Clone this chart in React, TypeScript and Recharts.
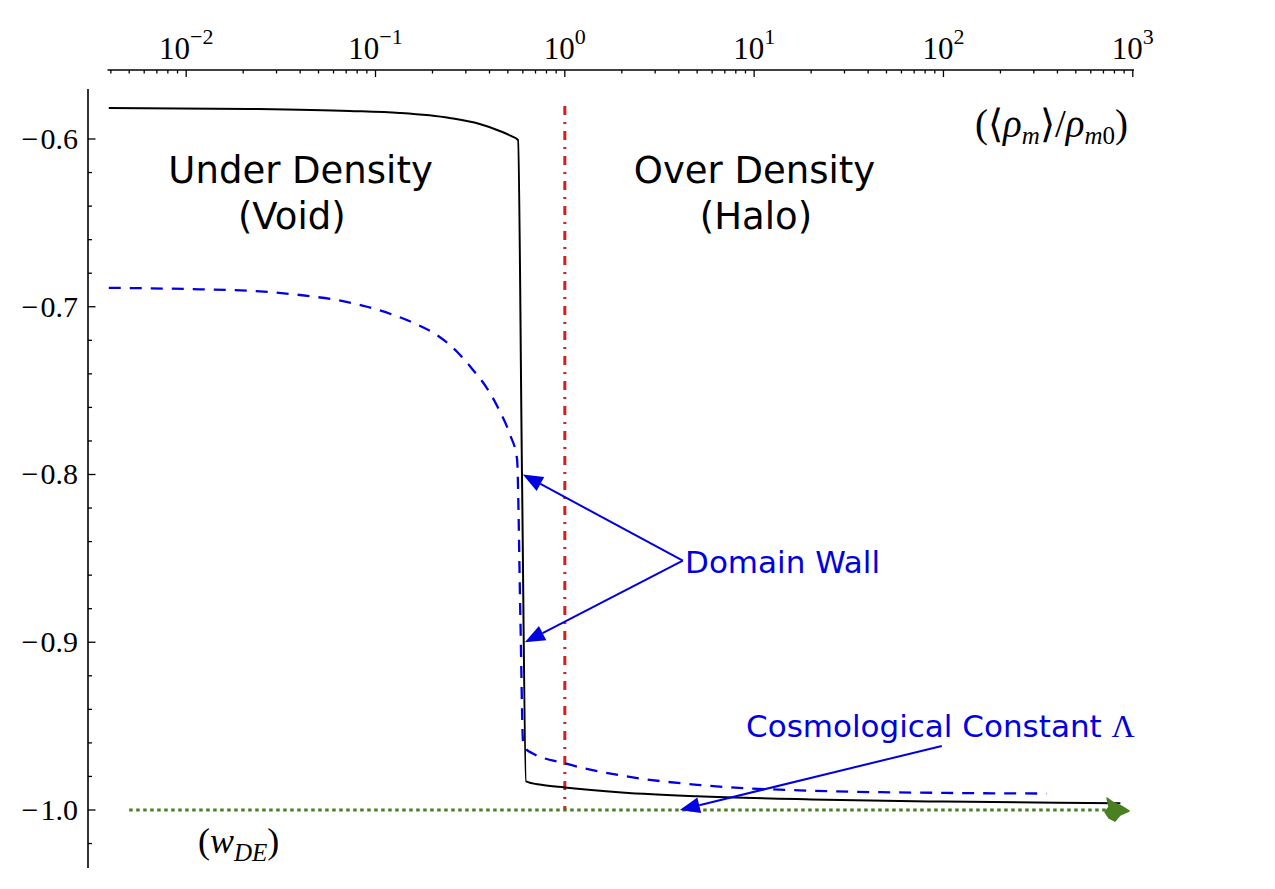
import React from 'react';
import { LineChart, Line, XAxis, YAxis, ReferenceLine, ReferenceDot } from 'recharts';

// density ratio <rho_m>/rho_m0 (log axis) vs w_DE
const xBlack = [0.0039, 0.0216, 0.073, 0.134, 0.2465, 0.355, 0.453, 0.52, 0.566, 0.594, 0.6237, 0.75, 1, 2, 5, 20, 100, 400, 860];
const wBlack = [-0.5815, -0.5821, -0.5833, -0.5845, -0.5875, -0.5911, -0.5952, -0.5982, -0.6006, -0.8, -0.9829, -0.985, -0.9866, -0.9895, -0.9918, -0.9937, -0.995, -0.9957, -0.996];

const xBlue = [0.0039, 0.0118, 0.0217, 0.0399, 0.0673, 0.0902, 0.1222, 0.1617, 0.2113, 0.2695, 0.3274, 0.3928, 0.4547, 0.5135, 0.5591, 0.583, 0.6017, 0.625, 0.67, 1, 2, 5, 20, 100, 350];
const wBlue = [-0.6887, -0.6896, -0.6905, -0.693, -0.6967, -0.7, -0.7046, -0.71, -0.7169, -0.7268, -0.7377, -0.7495, -0.7626, -0.7763, -0.7906, -0.8878, -0.9593, -0.9638, -0.966, -0.9722, -0.9795, -0.985, -0.9885, -0.9898, -0.9902];

const xLambda = [0.005, 806];
const wLambda = [-1, -1];

const xDecades = [-2, -1, 0, 1, 2, 3];
const yTickValues = [-1.02, -1.0, -0.98, -0.96, -0.94, -0.92, -0.9, -0.88, -0.86, -0.84, -0.82, -0.8, -0.78, -0.76, -0.74, -0.72, -0.7, -0.68, -0.66, -0.64, -0.62, -0.6];

// annotation arrows: [from, to] in data coords
const arrowFrom = [[4.2, -0.8513], [4.2, -0.8513], [98, -0.9618]];
const arrowTo = [[0.6, -0.8], [0.615, -0.9], [4.05, -1.0]];

const X_DOMAIN = [0.00384, 1015];
const Y_DOMAIN = [-1.03458, -0.57019];
const PLOT_W = 1026.5;
const PLOT_H = 779;
const GAP = 19; // spines pushed outward

const SANS = 'DejaVu Sans';
const SERIF = 'Liberation Serif';
const BLUE = '#0000e0';
const GREEN = '#4a7f22';
const RED = '#d21f1f';

const toPts = (xs: number[], ys: number[]) => xs.map((x, i) => ({ x, y: ys[i] }));
const blackData = toPts(xBlack, wBlack);
const blueData = toPts(xBlue, wBlue);
const lambdaData = toPts(xLambda, wLambda);

const xTicks: number[] = [];
xDecades.forEach((d) => {
  for (let m = 1; m < 10; m++) {
    const v = m * Math.pow(10, d - 1);
    if (v >= X_DOMAIN[0] && v <= X_DOMAIN[1]) xTicks.push(v);
  }
});
xTicks.push(1000);

const ySpine = Y_DOMAIN[1] + (GAP * (Y_DOMAIN[1] - Y_DOMAIN[0])) / PLOT_H;
const xSpine = X_DOMAIN[0] / Math.pow(10, (19.5 * Math.log10(X_DOMAIN[1] / X_DOMAIN[0])) / PLOT_W);

const XTick = (props: any) => {
  const { x, y, payload } = props;
  const lg = Math.log10(payload.value);
  const e = Math.round(lg);
  const major = Math.abs(lg - e) < 1e-6;
  const ay = y - GAP;
  return (
    <g>
      <line x1={x} x2={x} y1={ay} y2={ay + (major ? 7 : 3.5)} stroke="#000" strokeWidth={1.3} />
      {major && (
        <text x={x} y={ay - 11} textAnchor="middle" fontFamily={SERIF} fontSize={31} fill="#000">
          10<tspan dy={-15} fontSize={22}>{e < 0 ? `\u2212${-e}` : `${e}`}</tspan>
        </text>
      )}
    </g>
  );
};

const YTick = (props: any) => {
  const { x, y, payload } = props;
  const v = payload.value;
  const major = Math.abs(v * 10 - Math.round(v * 10)) < 1e-6;
  const ax = x - 19.5;
  return (
    <g>
      <line x1={ax} x2={ax + (major ? 7.5 : 4)} y1={y} y2={y} stroke="#000" strokeWidth={1.3} />
      {major && (
        <text x={ax - 10} y={y + 10} textAnchor="end" fontFamily={SERIF} fontSize={30} fill="#000">
          {'\u2212'}<tspan dx={2}>{Math.abs(v).toFixed(1)}</tspan>
        </text>
      )}
    </g>
  );
};

const Arrow = (props: any) => {
  const { x1, y1, x2, y2 } = props;
  const len = Math.hypot(x2 - x1, y2 - y1) || 1;
  const ux = (x2 - x1) / len;
  const uy = (y2 - y1) / len;
  const hl = 20;
  const hw = 8;
  const bx = x2 - ux * hl;
  const by = y2 - uy * hl;
  return (
    <g>
      <line x1={x1} y1={y1} x2={bx} y2={by} stroke={BLUE} strokeWidth={2} />
      <polygon points={`${x2},${y2} ${bx - uy * hw},${by + ux * hw} ${bx + uy * hw},${by - ux * hw}`} fill={BLUE} />
    </g>
  );
};

const textShape = (content: React.ReactNode, size: number, color: string, anchor: string, family = SANS) => (p: any) => (
  <text x={p.cx} y={p.cy} fontFamily={family} fontSize={size} fill={color} textAnchor={anchor}>
    {content}
  </text>
);

const LambdaEnd = (props: any) => {
  const { cx, cy, index } = props;
  if (index !== lambdaData.length - 1) return <g key={`d-${index}`} />;
  return (
    <path
      key={`d-${index}`}
      d={`M${cx - 8},${cy - 12} L${cx - 1},${cy - 7} L${cx + 6},${cy - 4} L${cx + 14},${cy + 1} L${cx + 5},${cy + 5} L${cx},${cy + 11} L${cx - 6},${cy + 8} L${cx - 10},${cy + 2} L${cx - 6},${cy - 3} Z`}
      fill={GREEN}
      stroke={GREEN}
      strokeWidth={1.5}
      strokeLinejoin="round"
    />
  );
};

export default function App() {
  return (
    <div style={{ position: 'absolute', left: 0, top: 0, width: 1275, height: 889, background: '#fff' }}>
      <LineChart width={1275} height={889} margin={{ top: 49, right: 141, bottom: 21, left: 47.5 }}>
        <XAxis
          xAxisId={0}
          type="number"
          dataKey="x"
          scale="log"
          orientation="top"
          domain={X_DOMAIN}
          allowDataOverflow
          ticks={xTicks}
          interval={0}
          height={40}
          tickSize={0}
          tickMargin={0}
          axisLine={false}
          tickLine={false}
          tick={(p: any) => <XTick {...p} />}
        />
        <YAxis
          yAxisId={0}
          type="number"
          domain={Y_DOMAIN}
          allowDataOverflow
          ticks={yTickValues}
          interval={0}
          width={60}
          tickSize={0}
          tickMargin={0}
          axisLine={false}
          tickLine={false}
          tick={(p: any) => <YTick {...p} />}
        />

        {/* outward spines */}
        <ReferenceLine segment={[{ x: X_DOMAIN[0], y: ySpine }, { x: X_DOMAIN[1], y: ySpine }]} stroke="#000" strokeWidth={1.6} ifOverflow="visible" />
        <ReferenceLine segment={[{ x: xSpine, y: Y_DOMAIN[1] }, { x: xSpine, y: Y_DOMAIN[0] }]} stroke="#000" strokeWidth={1.6} ifOverflow="visible" />

        <ReferenceLine segment={[{ x: 1, y: -0.5803 }, { x: 1, y: -1.0 }]} stroke={RED} strokeWidth={3} strokeDasharray="9 7 2 7" ifOverflow="visible" />

        <Line data={lambdaData} dataKey="y" type="linear" stroke={GREEN} strokeWidth={3} strokeDasharray="3.5 3.5" dot={(p: any) => <LambdaEnd {...p} />} activeDot={false} isAnimationActive={false} />
        <Line data={blueData} dataKey="y" type="monotone" stroke={BLUE} strokeWidth={2.3} strokeDasharray="12 9" dot={false} activeDot={false} isAnimationActive={false} />
        <Line data={blackData} dataKey="y" type="monotone" stroke="#000" strokeWidth={2} dot={false} activeDot={false} isAnimationActive={false} />

        {arrowFrom.map((f, i) => (
          <ReferenceLine
            key={`arrow-${i}`}
            segment={[{ x: f[0], y: f[1] }, { x: arrowTo[i][0], y: arrowTo[i][1] }]}
            ifOverflow="visible"
            shape={(p: any) => <Arrow {...p} />}
          />
        ))}

        <ReferenceDot x={0.0402} y={-0.6262} r={0} ifOverflow="visible" shape={textShape('Under Density', 37, '#000', 'middle')} />
        <ReferenceDot x={0.0361} y={-0.6538} r={0} ifOverflow="visible" shape={textShape('(Void)', 37, '#000', 'middle')} />
        <ReferenceDot x={10.05} y={-0.6262} r={0} ifOverflow="visible" shape={textShape('Over Density', 37, '#000', 'middle')} />
        <ReferenceDot x={10.23} y={-0.6538} r={0} ifOverflow="visible" shape={textShape('(Halo)', 37, '#000', 'middle')} />
        <ReferenceDot x={4.315} y={-0.8588} r={0} ifOverflow="visible" shape={textShape('Domain Wall', 31, BLUE, 'start')} />
        <ReferenceDot
          x={9.06}
          y={-0.9564}
          r={0}
          ifOverflow="visible"
          shape={textShape(
            <>
              Cosmological Constant <tspan fontFamily={SERIF} fontSize={32}>{'\u039B'}</tspan>
            </>,
            31,
            BLUE,
            'start'
          )}
        />
        <ReferenceDot
          x={146.9}
          y={-0.5988}
          r={0}
          ifOverflow="visible"
          shape={textShape(
            <>
              ({'\u27E8'}
              <tspan fontStyle="italic">ρ</tspan>
              <tspan fontStyle="italic" fontSize={25} dy={7}>m</tspan>
              <tspan dy={-7}>{'\u27E9'}/</tspan>
              <tspan fontStyle="italic">ρ</tspan>
              <tspan fontSize={25} dy={7}>
                <tspan fontStyle="italic">m</tspan>0
              </tspan>
              <tspan dy={-7}>)</tspan>
            </>,
            39,
            '#000',
            'start',
            SERIF
          )}
        />
        <ReferenceDot
          x={0.01154}
          y={-1.0256}
          r={0}
          ifOverflow="visible"
          shape={textShape(
            <>
              (<tspan fontStyle="italic">w</tspan>
              <tspan fontStyle="italic" fontSize={25} dy={8}>DE</tspan>
              <tspan dy={-8}>)</tspan>
            </>,
            36,
            '#000',
            'start',
            SERIF
          )}
        />
      </LineChart>
    </div>
  );
}
